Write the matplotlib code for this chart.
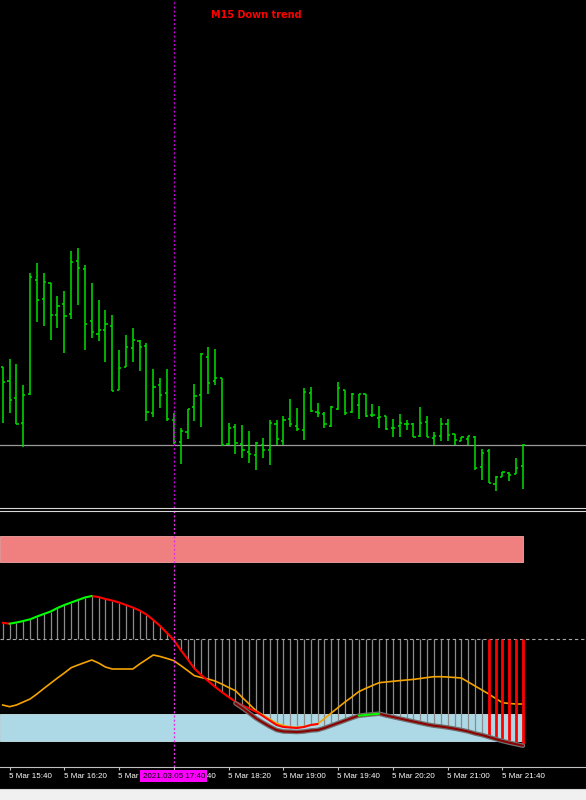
import matplotlib
matplotlib.use("Agg")
import matplotlib.pyplot as plt
from matplotlib.lines import Line2D
from matplotlib.patches import Rectangle
import numpy as np

# ---------------- data ----------------
opens = [1.19578, 1.19564, 1.19547, 1.19522, 1.19551, 1.19665, 1.19646, 1.19662, 1.19630, 1.19641,
         1.19631, 1.19684, 1.19676, 1.19624, 1.19611, 1.19615, 1.19619, 1.19555, 1.19578, 1.19597,
         1.19604, 1.19599, 1.19532, 1.19560, 1.19552, 1.19525, 1.19503, 1.19513, 1.19538, 1.19550,
         1.19588, 1.19564, 1.19567, 1.19501, 1.19518, 1.19501, 1.19493, 1.19490, 1.19500, 1.19495,
         1.19521, 1.19504, 1.19526, 1.19519, 1.19515, 1.19552, 1.19533, 1.19531, 1.19519, 1.19536,
         1.19555, 1.19533, 1.19540, 1.19551, 1.19530, 1.19527, 1.19529, 1.19517, 1.19519, 1.19521,
         1.19521, 1.19509, 1.19523, 1.19507, 1.19509, 1.19521, 1.19511, 1.19504, 1.19506, 1.19508,
         1.19478, 1.19494, 1.19461, 1.19468, 1.19472, 1.19471, 1.19479]
highs = [1.19578, 1.19586, 1.19581, 1.19560, 1.19672, 1.19682, 1.19672, 1.19662, 1.19649, 1.19654,
         1.19694, 1.19697, 1.19680, 1.19662, 1.19645, 1.19635, 1.19630, 1.19595, 1.19610, 1.19617,
         1.19605, 1.19602, 1.19576, 1.19567, 1.19576, 1.19532, 1.19517, 1.19536, 1.19561, 1.19592,
         1.19598, 1.19596, 1.19567, 1.19522, 1.19521, 1.19520, 1.19514, 1.19503, 1.19507, 1.19525,
         1.19525, 1.19529, 1.19546, 1.19537, 1.19557, 1.19558, 1.19542, 1.19533, 1.19539, 1.19563,
         1.19555, 1.19552, 1.19551, 1.19551, 1.19541, 1.19539, 1.19529, 1.19526, 1.19531, 1.19525,
         1.19522, 1.19538, 1.19529, 1.19513, 1.19527, 1.19526, 1.19511, 1.19508, 1.19509, 1.19509,
         1.19496, 1.19496, 1.19469, 1.19473, 1.19473, 1.19487, 1.19501]
lows = [1.19522, 1.19532, 1.19521, 1.19498, 1.19550, 1.19623, 1.19619, 1.19605, 1.19617, 1.19592,
        1.19626, 1.19640, 1.19595, 1.19607, 1.19604, 1.19583, 1.19554, 1.19555, 1.19578, 1.19583,
        1.19574, 1.19524, 1.19528, 1.19537, 1.19524, 1.19501, 1.19481, 1.19506, 1.19524, 1.19518,
        1.19551, 1.19560, 1.19499, 1.19500, 1.19491, 1.19487, 1.19482, 1.19475, 1.19487, 1.19480,
        1.19500, 1.19500, 1.19518, 1.19514, 1.19505, 1.19533, 1.19528, 1.19517, 1.19518, 1.19535,
        1.19530, 1.19532, 1.19526, 1.19528, 1.19528, 1.19517, 1.19515, 1.19508, 1.19508, 1.19515,
        1.19508, 1.19508, 1.19508, 1.19500, 1.19504, 1.19504, 1.19500, 1.19504, 1.19500, 1.19475,
        1.19465, 1.19462, 1.19454, 1.19468, 1.19464, 1.19471, 1.19456]
closes = [1.19563, 1.19545, 1.19521, 1.19550, 1.19668, 1.19645, 1.19663, 1.19630, 1.19639, 1.19629,
          1.19683, 1.19677, 1.19621, 1.19613, 1.19615, 1.19621, 1.19554, 1.19577, 1.19598, 1.19605,
          1.19598, 1.19533, 1.19558, 1.19550, 1.19526, 1.19503, 1.19514, 1.19536, 1.19549, 1.19591,
          1.19562, 1.19567, 1.19500, 1.19517, 1.19502, 1.19495, 1.19491, 1.19502, 1.19495, 1.19522,
          1.19506, 1.19525, 1.19521, 1.19516, 1.19553, 1.19534, 1.19532, 1.19521, 1.19538, 1.19557,
          1.19532, 1.19551, 1.19551, 1.19529, 1.19530, 1.19528, 1.19516, 1.19517, 1.19522, 1.19521,
          1.19508, 1.19522, 1.19508, 1.19509, 1.19521, 1.19510, 1.19505, 1.19508, 1.19509, 1.19477,
          1.19492, 1.19462, 1.19468, 1.19473, 1.19470, 1.19477, 1.19500]
bid_price = 1.19500

# indicator (points)
macd = [15.7, 14.8, 16.0, 17.5, 19.2, 22.0, 24.5, 27.0, 30.5, 33.5,
        36.0, 38.5, 41.0, 42.5, 41.5, 39.5, 38.0, 36.0, 33.5, 31.0,
        28.0, 24.0, 18.5, 12.5, 5.5, -1.5, -11.5, -20.5, -30.0, -36.5,
        -42.5, -48.2, -53.5, -58.5, -63.2, -67.0, -70.0, -73.2, -77.5, -82.0,
        -86.5, -88.5, -89.0, -89.5, -88.5, -86.5, -85.5, -89.5, -87.0, -84.5,
        -82.0, -79.5, -77.2, -76.5, -75.8, -75.2, -77.0, -78.5, -80.0, -81.5,
        -83.0, -84.5, -86.0, -87.2, -88.0, -89.0, -90.2, -91.5, -93.0, -95.0,
        -96.5, -98.5, -100.5, -102.5, -104.2, -105.7, -107.2]
deep = [np.nan] * 34 + [
        -64.8, -69.5, -74.5, -79.8, -84.0, -88.0,
        -91.5, -93.0, -93.2, -93.5, -93.0, -92.0, -91.5, -89.5, -87.0, -84.5,
        -82.0, -79.5, -77.2, -76.5, -75.8, -75.2, -77.0, -78.5, -80.0, -81.5,
        -83.0, -84.5, -86.0, -87.2, -88.0, -89.0, -90.2, -91.5, -93.0, -95.0,
        -96.5, -98.5, -100.5, -102.5, -104.2, -105.7, -107.2]
signal = [-66.5, -68.2, -66.5, -63.5, -60.5, -55.5, -50.0, -44.8, -39.5, -34.5,
          -29.2, -26.5, -24.0, -21.5, -24.5, -28.5, -30.5, -30.5, -30.5, -30.5,
          -25.5, -21.0, -16.5, -18.0, -20.0, -22.2, -27.0, -32.0, -37.2, -39.0,
          -40.5, -42.5, -45.5, -49.0, -52.2, -59.0, -65.5, -72.2, -76.5, -80.5,
          -84.8, -87.0, -88.5, -89.0, -88.0, -86.5, -85.5, -80.0, -74.5, -69.0,
          -63.5, -58.5, -53.2, -50.0, -47.0, -44.2, -43.5, -42.8, -42.1, -41.5,
          -40.9, -40.0, -39.0, -38.2, -38.2, -38.5, -39.0, -39.5, -43.5, -47.5,
          -51.5, -55.5, -60.0, -64.2, -65.0, -65.5, -65.5]
upper_zone = (76.5, 102.5)
lower_zone = (-102.2, -75.8)
alert_bars = [71, 72, 73, 74, 75, 76]
green_ranges = [(1, 13), (52, 55)]
red_ranges = [(0, 1), (13, 46)]

tick_bars = [1, 9, 17, 25, 33, 41, 49, 57, 65, 73]
tick_labels = ["5 Mar 15:40", "5 Mar 16:20", "5 Mar 17:00", "5 Mar 17:40", "5 Mar 18:20",
               "5 Mar 19:00", "5 Mar 19:40", "5 Mar 20:20", "5 Mar 21:00", "5 Mar 21:40"]
vline_bar = 25
vline_label = "2021.03.05 17:40"
title_text = "M15 Down trend"

# ---------------- layout ----------------
W, H = 586, 800
fig = plt.figure(figsize=(W / 100, H / 100), dpi=100, facecolor="black")

def fy(px):
    return 1 - px / H

n = len(opens)
x = np.arange(n)
XL = (-2.7 / 6.846, (W - 2.7) / 6.846)

ax = fig.add_axes([0, fy(508), 1, 508 / H])
ax.set_facecolor("black")
ax.set_xlim(*XL)
ax.set_ylim(1.19437, 1.19945)
ax.axis("off")

axi = fig.add_axes([0, fy(767), 1, (767 - 511) / H])
axi.set_facecolor("black")
axi.set_xlim(*XL)
axi.set_ylim(-128.5, 127.5)
for s in axi.spines.values():
    s.set_visible(False)
axi.set_yticks([])

# ---------------- price bars ----------------
bar_col = "#00d800"
ax.vlines(x, lows, highs, color=bar_col, lw=1.15, zorder=3)
ax.hlines(opens, x - 0.32, x, color=bar_col, lw=1.15, zorder=3)
ax.hlines(closes, x, x + 0.32, color=bar_col, lw=1.15, zorder=3)
ax.axhline(bid_price, color="#9a9a9a", lw=0.9, zorder=2)
ax.axvline(vline_bar, color="#c000d0", lw=1.0, ls=(0, (1.5, 1.5)), zorder=4)
ax.text(256.7 / W, 1 - 15.5 / 508, title_text, transform=ax.transAxes,
        ha="center", va="center", color="#ff0000", fontsize=7, fontweight="bold",
        family="DejaVu Sans")

# ---------------- indicator ----------------
axi.fill_between([XL[0], n - 1], upper_zone[0], upper_zone[1], color="#f08080",
                 edgecolor="#f4a4a4", lw=0.6, zorder=1)
axi.fill_between([XL[0], n - 1], lower_zone[0], lower_zone[1], color="#add8e6",
                 edgecolor="#c8e6f0", lw=0.6, zorder=1)

normal = [i for i in range(n) if i not in alert_bars]
axi.vlines([x[i] for i in normal], 0, [macd[i] for i in normal], color="#8c8c8c",
           lw=0.9, zorder=2)
axi.axhline(0, color="#a8a8a8", lw=0.8, ls=(0, (3, 2.5)), zorder=2.5)
axi.plot(x, signal, color="#f5a300", lw=1.2, zorder=3)
axi.vlines(alert_bars, 0, [macd[i] for i in alert_bars], color="#ff0000", lw=2.0, zorder=3.5)

for a, b in red_ranges:
    axi.plot(x[a:b + 1], macd[a:b + 1], color="#ff0000", lw=1.5, zorder=4,
             solid_capstyle="round")
axi.plot(x, deep, color="#707070", lw=3.3, zorder=4.5, solid_capstyle="round")
axi.plot(x, deep, color="#8b0000", lw=1.5, zorder=4.6, solid_capstyle="round")
for a, b in green_ranges:
    axi.plot(x[a:b + 1], macd[a:b + 1], color="#00ff00", lw=1.5, zorder=5,
             solid_capstyle="round")

axi.axvline(vline_bar, color="#e030e0", lw=1.0, ls=(0, (1.5, 1.5)), zorder=6)

# x axis ticks and labels
axi.set_xticks(tick_bars)
axi.tick_params(axis="x", direction="out", length=2.5, width=0.8, color="#c0c0c0",
                labelbottom=False)
lab_y = -(776 - 767) / (767 - 511)
for tb, tl in zip(tick_bars, tick_labels):
    axi.text(tb - 0.1, lab_y, tl, transform=axi.get_xaxis_transform(), ha="left",
             va="center", color="white", fontsize=5.8, family="Liberation Sans",
             clip_on=False)
axi.text(vline_bar, lab_y, vline_label, transform=axi.get_xaxis_transform(),
         ha="center", va="center", color="black", fontsize=5.8, family="Liberation Sans",
         clip_on=False, zorder=10,
         bbox=dict(facecolor="#ff00ff", edgecolor="none", pad=1.6))

# ---------------- frame lines ----------------
for ypx, col in [(508, "#d8d8d8"), (510.5, "#d8d8d8"), (767, "#c0c0c0"), (789, "#d8d8d8")]:
    fig.add_artist(Line2D([0, 1], [fy(ypx), fy(ypx)], transform=fig.transFigure,
                          color=col, lw=0.8))
fig.add_artist(Rectangle((0, 0), 1, fy(790), transform=fig.transFigure,
                         facecolor="#f0f0f0", edgecolor="none"))

fig.savefig("out.png", dpi=100, facecolor="black")
